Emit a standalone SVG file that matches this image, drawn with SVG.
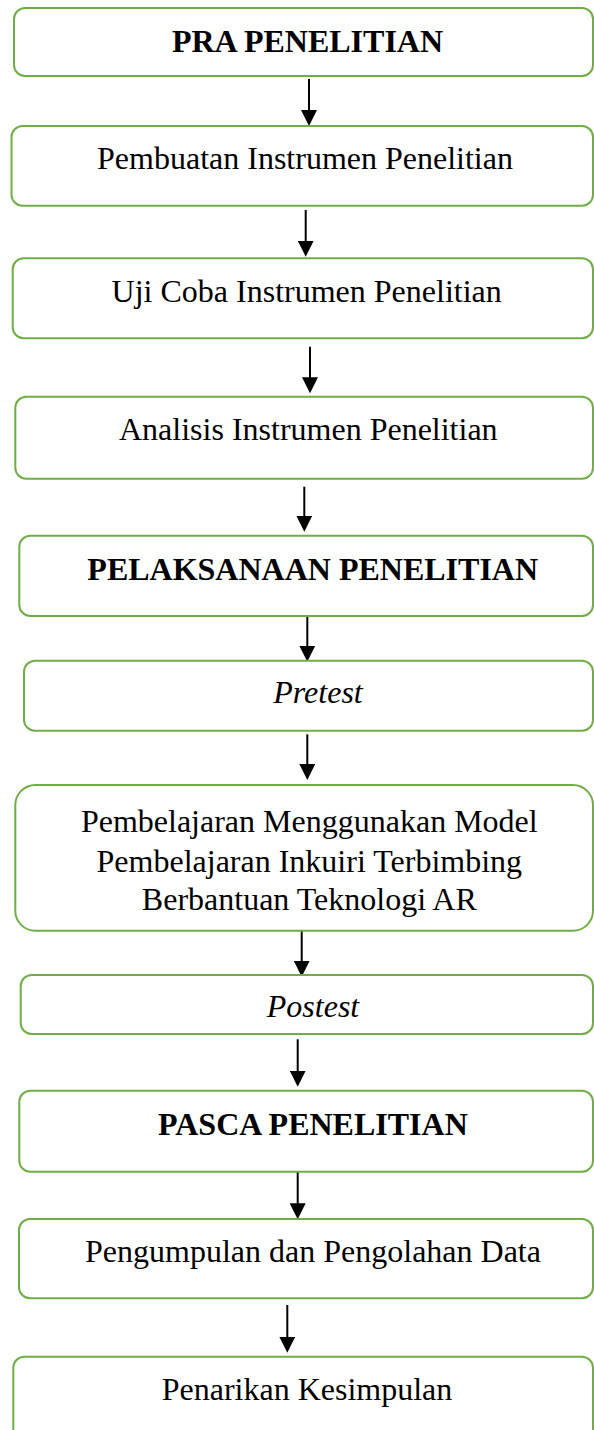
<svg xmlns="http://www.w3.org/2000/svg" width="594" height="1430" viewBox="0 0 594 1430">
<defs>
<style>
.box{fill:#ffffff;stroke:#70AD47;stroke-width:2}
.t{font-family:"Liberation Serif","Times New Roman",serif;font-size:32px;fill:#000;text-anchor:middle}
.b{font-weight:bold}
.i{font-style:italic}
.c{stroke:#000;stroke-width:2;fill:none;marker-end:url(#ah)}
</style>
<marker id="ah" viewBox="0 0 16 16" markerWidth="16" markerHeight="16" refX="2" refY="8" orient="auto" markerUnits="userSpaceOnUse">
<path d="M0,0 L16,8 L0,16 z" fill="#000"/>
</marker>
</defs>
<rect width="594" height="1430" fill="#ffffff"/>
<g id="connectors">
<line class="c" x1="309" y1="79" x2="309" y2="112"/>
<line class="c" x1="305.7" y1="210" x2="305.7" y2="242.7"/>
<line class="c" x1="310" y1="346.7" x2="310" y2="379.3"/>
<line class="c" x1="304.3" y1="486.7" x2="304.3" y2="517.7"/>
<line class="c" x1="307.3" y1="616" x2="307.3" y2="647.7"/>
<line class="c" x1="307.3" y1="734.3" x2="307.3" y2="766"/>
<line class="c" x1="301.7" y1="930" x2="301.7" y2="962.7"/>
<line class="c" x1="297.7" y1="1039.3" x2="297.7" y2="1072.7"/>
<line class="c" x1="297.7" y1="1172" x2="297.7" y2="1205.3"/>
<line class="c" x1="287.3" y1="1305" x2="287.3" y2="1338.7"/>
</g>
<g id="n1"><rect class="box" x="14" y="8" width="579" height="68" rx="11"/><text class="t b" x="307.5" y="52">PRA PENELITIAN</text></g>
<g id="n2"><rect class="box" x="11.5" y="126" width="581.5" height="79.7" rx="11"/><text class="t" x="305" y="169">Pembuatan Instrumen Penelitian</text></g>
<g id="n3"><rect class="box" x="12.7" y="258.3" width="580.3" height="80" rx="11"/><text class="t" x="306.7" y="301.7">Uji Coba Instrumen Penelitian</text></g>
<g id="n4"><rect class="box" x="15.3" y="396.7" width="577.7" height="82" rx="11"/><text class="t" x="308.3" y="440">Analisis Instrumen Penelitian</text></g>
<g id="n5"><rect class="box" x="19.3" y="535.7" width="573.7" height="80.3" rx="11"/><text class="t b" x="312.7" y="580">PELAKSANAAN PENELITIAN</text></g>
<g id="n6"><rect class="box" x="24" y="660.7" width="569" height="70" rx="11"/><text class="t i" x="318" y="703.3">Pretest</text></g>
<g id="n7"><rect class="box" x="15.3" y="785" width="577.7" height="145.7" rx="20"/><text class="t" x="309.3"><tspan x="309.3" y="831.7">Pembelajaran Menggunakan Model</tspan><tspan x="309.3" y="871.7">Pembelajaran Inkuiri Terbimbing</tspan><tspan x="309.3" y="910">Berbantuan Teknologi AR</tspan></text></g>
<g id="n8"><rect class="box" x="20.7" y="975" width="572.3" height="59" rx="11"/><text class="t i" x="313" y="1016.7">Postest</text></g>
<g id="n9"><rect class="box" x="19.3" y="1090.7" width="573.7" height="81" rx="11"/><text class="t b" x="312.9" y="1135">PASCA PENELITIAN</text></g>
<g id="n10"><rect class="box" x="19" y="1219" width="574" height="79.3" rx="11"/><text class="t" x="313" y="1261.7">Pengumpulan dan Pengolahan Data</text></g>
<g id="n11"><rect class="box" x="13.3" y="1356.7" width="579.7" height="90" rx="11"/><text class="t" x="307" y="1400">Penarikan Kesimpulan</text></g>
</svg>
